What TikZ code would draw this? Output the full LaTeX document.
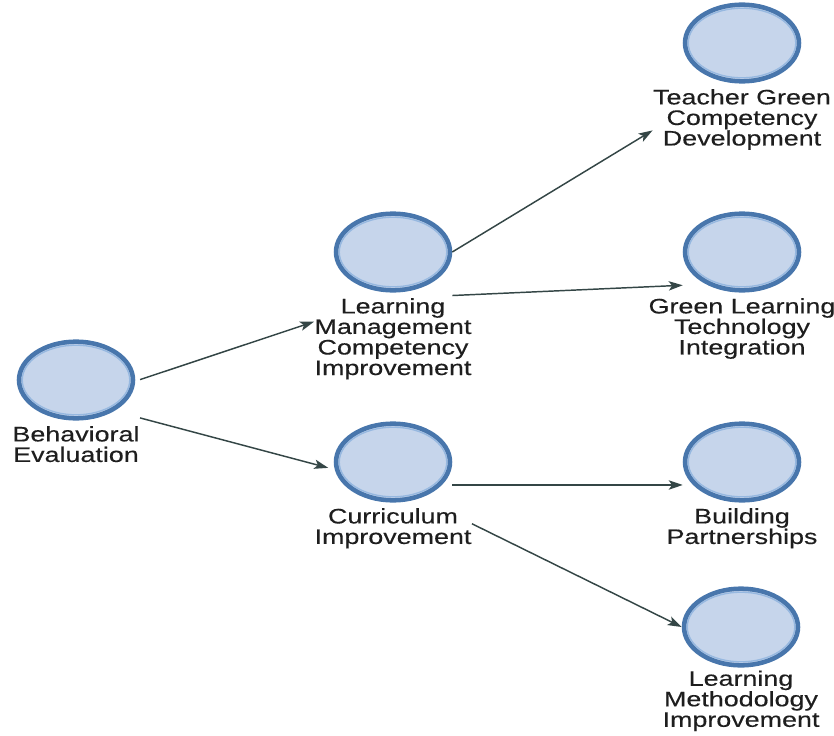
\documentclass[tikz,border=0pt]{standalone}
\usepackage{fontspec}
\setmainfont{Liberation Sans}[FakeStretch=1.28,FakeBold=0.3]
\usetikzlibrary{shapes.geometric}
\usetikzlibrary{positioning}
\usetikzlibrary{fit}
\usetikzlibrary{arrows.meta}
\definecolor{ringblue}{RGB}{72,118,172}
\definecolor{ringlight}{RGB}{150,184,224}
\definecolor{bubfill}{RGB}{198,213,235}
\definecolor{linkgray}{RGB}{52,70,70}
\definecolor{txtgray}{RGB}{30,30,30}
\tikzset{bubble/.style={ellipse,draw=ringblue,line width=3.4pt,fill=bubfill,
                        minimum width=85.5pt,minimum height=57.5pt,inner sep=0pt,
                        path picture={\draw[ringlight,line width=1pt]
                          (path picture bounding box.center) ellipse (40.3pt and 26.1pt);}},
         lbl/.style={align=center,inner sep=0pt,text=txtgray,
                     font=\fontsize{15.75pt}{15.4pt}\selectfont},
         grp/.style={inner sep=0pt,draw=none},
         link/.style={draw=linkgray,line width=1.1pt,
                      -{Stealth[length=10.5pt,width=7pt,inset=2.5pt]}},
         }

\begin{document}
\begin{tikzpicture}[x=0.75pt,y=-0.75pt]
		\useasboundingbox (0,0) rectangle (834,735);
		\node[bubble] (be) at (76,380) {};
		\node[lbl,below=4pt of be] (be-t) {Behavioral\\Evaluation};
		\node[bubble] (lmci) at (393,252) {};
		\node[lbl,below=4pt of lmci] (lmci-t) {Learning\\Management\\Competency\\Improvement};
		\node[bubble] (cur) at (393,462) {};
		\node[lbl,below=4pt of cur] (cur-t) {Curriculum\\Improvement};
		\node[bubble] (tgc) at (742,43) {};
		\node[lbl,below=4pt of tgc] (tgc-t) {Teacher Green\\Competency\\Development};
		\node[bubble] (glt) at (742,252) {};
		\node[lbl,below=4pt of glt] (glt-t) {Green Learning\\Technology\\Integration};
		\node[bubble] (bp) at (742,462) {};
		\node[lbl,below=4pt of bp] (bp-t) {Building\\Partnerships};
		\node[bubble] (lmi) at (741,627) {};
		\node[lbl,below=2pt of lmi] (lmi-t) {Learning\\Methodology\\Improvement};
		\node[grp,fit=(be)(be-t)] (be-g) {};
		\node[grp,fit=(lmci)(lmci-t)] (lmci-g) {};
		\node[grp,fit=(cur)(cur-t)] (cur-g) {};
		\node[grp,fit=(tgc)(tgc-t)] (tgc-g) {};
		\node[grp,fit=(glt)(glt-t)] (glt-g) {};
		\node[grp,fit=(bp)(bp-t)] (bp-g) {};
		\node[grp,fit=(lmi)(lmi-t)] (lmi-g) {};
		\draw[link] (be-g) -- (lmci-g);
		\draw[link,shorten >=-11pt] (be-g) -- (cur-g);
		\draw[link] (lmci.east) -- (tgc-g);
		\draw[link] (lmci.east |- lmci-g.center) -- (glt.west |- glt-g.center);
		\draw[link] (cur.east |- cur-g.center) -- (bp.west |- bp-g.center);
		\draw[link] (cur-g) -- (lmi.west);
\end{tikzpicture}
\end{document}
